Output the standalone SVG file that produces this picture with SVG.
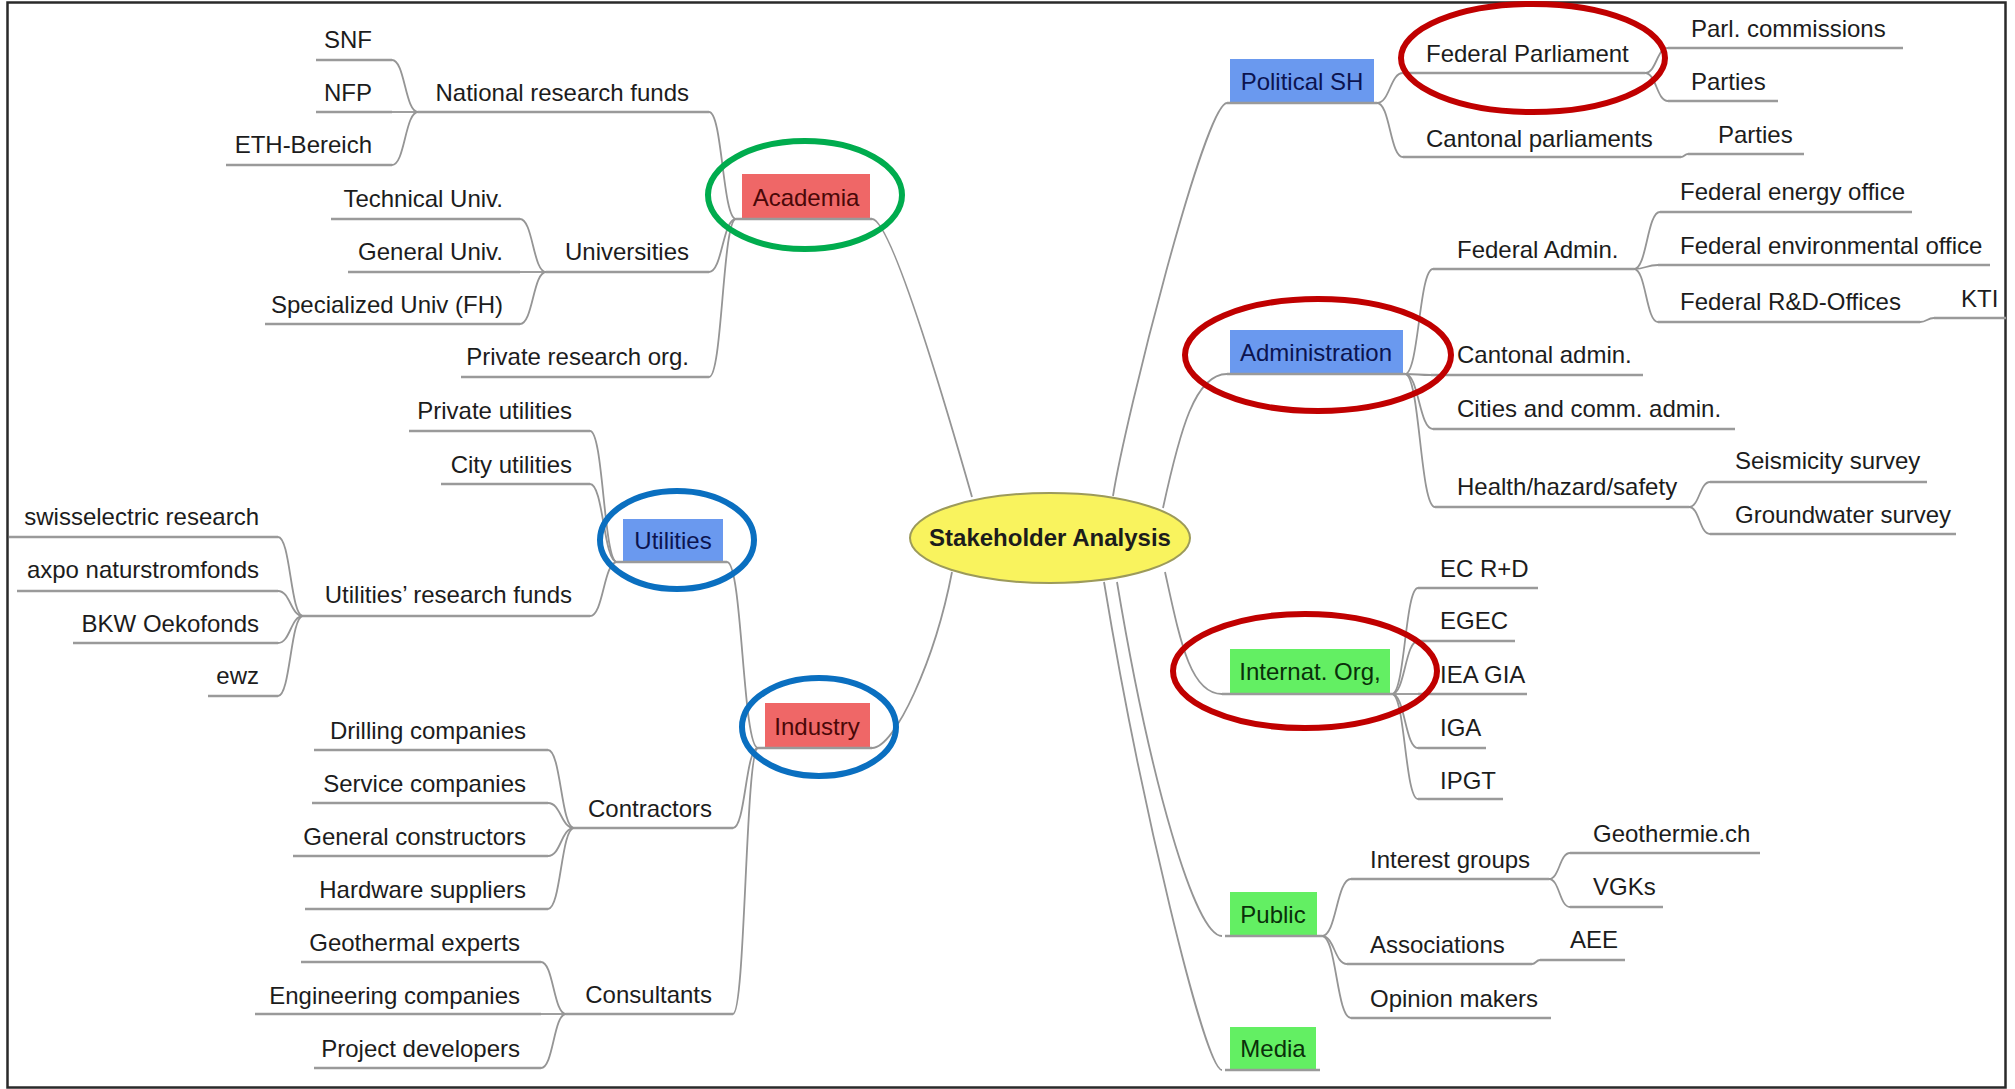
<svg xmlns="http://www.w3.org/2000/svg" width="2015" height="1089" viewBox="0 0 2015 1089">
<style>
text{font-family:"Liberation Sans",Arial,sans-serif;font-size:24px;fill:#1c1c1c}
.e{text-anchor:end}
.m{text-anchor:middle}
.u{stroke:#9a9a9a;stroke-width:2.5;fill:none}
.c{stroke:#959595;stroke-width:1.8;fill:none}
.red{fill:#ef6767}
.blue{fill:#6a99ef}
.green{fill:#63ef63}
.tr{fill:#4a0808}
.tb{fill:#0c1450}
.tg{fill:#0a300a}
.hl{fill:none;stroke-width:6}
</style>
<rect x="0" y="0" width="2015" height="1089" fill="#fff"/>
<rect x="7.5" y="2.5" width="1998" height="1085" fill="none" stroke="#2a2a2a" stroke-width="2.5"/>
<g id="connectors">
<path class="c" d="M392 60 C405 60 405 112 418 112"/>
<path class="c" d="M392 112 H418"/>
<path class="c" d="M392 165 C405 165 405 112 418 112"/>
<path class="c" d="M709 112 C722.5 112 722.5 219 736 219"/>
<path class="c" d="M520 219 C533 219 533 272 546 272"/>
<path class="c" d="M520 272 H546"/>
<path class="c" d="M520 324 C533 324 533 272 546 272"/>
<path class="c" d="M709 272 C722.5 272 722.5 219 736 219"/>
<path class="c" d="M709 377 C722.5 377 722.5 219 736 219"/>
<path class="c" d="M590 431 C603.5 431 603.5 562 617 562"/>
<path class="c" d="M590 484 C603.5 484 603.5 562 617 562"/>
<path class="c" d="M590 616 C603.5 616 603.5 562 617 562"/>
<path class="c" d="M278 537 C290.5 537 290.5 616 303 616"/>
<path class="c" d="M278 591 C290.5 591 290.5 616 303 616"/>
<path class="c" d="M278 643 C290.5 643 290.5 616 303 616"/>
<path class="c" d="M278 696 C290.5 696 290.5 616 303 616"/>
<path class="c" d="M727 562 C742.5 562 742.5 748 758 748"/>
<path class="c" d="M548 750 C561 750 561 828 574 828"/>
<path class="c" d="M548 803 C561 803 561 828 574 828"/>
<path class="c" d="M548 856 C561 856 561 828 574 828"/>
<path class="c" d="M548 909 C561 909 561 828 574 828"/>
<path class="c" d="M733 828 C745.5 828 745.5 748 758 748"/>
<path class="c" d="M541 962 C553.5 962 553.5 1014 566 1014"/>
<path class="c" d="M541 1014 H566"/>
<path class="c" d="M541 1068 C553.5 1068 553.5 1014 566 1014"/>
<path class="c" d="M733 1014 C745.5 1014 745.5 748 758 748"/>
<path class="c" d="M1377 103 C1390 103 1390 73 1403 73"/>
<path class="c" d="M1377 103 C1390 103 1390 157 1403 157"/>
<path class="c" d="M1645 73 C1656.5 73 1656.5 48 1668 48"/>
<path class="c" d="M1645 73 C1656.5 73 1656.5 101 1668 101"/>
<path class="c" d="M1681 157 C1684.5 157 1684.5 154 1688 154"/>
<path class="c" d="M1405 374 C1419 374 1419 269 1433 269"/>
<path class="c" d="M1405 374 C1418 374 1418 375 1431 375"/>
<path class="c" d="M1405 374 C1419 374 1419 429 1433 429"/>
<path class="c" d="M1405 374 C1420 374 1420 507 1435 507"/>
<path class="c" d="M1634 269 C1647 269 1647 212 1660 212"/>
<path class="c" d="M1634 269 C1646 269 1646 265 1658 265"/>
<path class="c" d="M1634 269 C1646 269 1646 322 1658 322"/>
<path class="c" d="M1920 322 C1927 322 1927 318 1934 318"/>
<path class="c" d="M1689 507 C1699.5 507 1699.5 482 1710 482"/>
<path class="c" d="M1689 507 C1699.5 507 1699.5 534 1710 534"/>
<path class="c" d="M1392 694 C1405 694 1405 588 1418 588"/>
<path class="c" d="M1392 694 C1405 694 1405 641 1418 641"/>
<path class="c" d="M1392 694 H1418"/>
<path class="c" d="M1392 694 C1405 694 1405 748 1418 748"/>
<path class="c" d="M1392 694 C1405 694 1405 799 1418 799"/>
<path class="c" d="M1322 936 C1336.5 936 1336.5 879 1351 879"/>
<path class="c" d="M1322 936 C1334.5 936 1334.5 964 1347 964"/>
<path class="c" d="M1322 936 C1336.5 936 1336.5 1018 1351 1018"/>
<path class="c" d="M1549 879 C1559.5 879 1559.5 853 1570 853"/>
<path class="c" d="M1549 879 C1559.5 879 1559.5 907 1570 907"/>
<path class="c" d="M1532 964 C1536 964 1536 960 1540 960"/>
<path class="c" d="M872 219 C892 219 950 420 972 497"/>
<path class="c" d="M872 748 C895 748 935 660 952 572"/>
<path class="c" d="M1227 103 C1205 103 1125 420 1113 496"/>
<path class="c" d="M1227 374 C1195 374 1180 430 1163 508"/>
<path class="c" d="M1222 694 C1190 694 1180 640 1165 572"/>
<path class="c" d="M1222 936 C1195 936 1150 780 1117 582"/>
<path class="c" d="M1222 1070 C1205 1070 1140 800 1104 582"/>
</g>
<g id="center"><ellipse cx="1050" cy="538" rx="140" ry="45" fill="#f9f35e" stroke="#9c9a5a" stroke-width="2"/><text class="m" x="1050" y="546" font-weight="bold" font-size="23" fill="#111">Stakeholder Analysis</text></g>
<g id="academia"><rect class="red" x="742" y="174" width="128" height="45"/><line class="u" x1="736" y1="219" x2="872" y2="219"/><text class="m tr" x="806" y="206">Academia</text></g>
<g id="snf"><line class="u" x1="316" y1="60" x2="392" y2="60"/><text class="e" x="372" y="48">SNF</text></g>
<g id="nfp"><line class="u" x1="316" y1="112" x2="392" y2="112"/><text class="e" x="372" y="101">NFP</text></g>
<g id="eth"><line class="u" x1="226" y1="165" x2="392" y2="165"/><text class="e" x="372" y="153">ETH-Bereich</text></g>
<g id="nrf"><line class="u" x1="418" y1="112" x2="709" y2="112"/><text class="e" x="689" y="101">National research funds</text></g>
<g id="techuniv"><line class="u" x1="331" y1="219" x2="520" y2="219"/><text class="e" x="503" y="207">Technical Univ.</text></g>
<g id="genuniv"><line class="u" x1="348" y1="272" x2="520" y2="272"/><text class="e" x="503" y="260">General Univ.</text></g>
<g id="specuniv"><line class="u" x1="265" y1="324" x2="520" y2="324"/><text class="e" x="503" y="313">Specialized Univ (FH)</text></g>
<g id="universities"><line class="u" x1="546" y1="272" x2="709" y2="272"/><text class="e" x="689" y="260">Universities</text></g>
<g id="privres"><line class="u" x1="461" y1="377" x2="709" y2="377"/><text class="e" x="689" y="365">Private research org.</text></g>
<g id="utilities"><rect class="blue" x="623" y="519" width="100" height="43"/><line class="u" x1="617" y1="562" x2="727" y2="562"/><text class="m tb" x="673" y="549">Utilities</text></g>
<g id="privutil"><line class="u" x1="409" y1="431" x2="590" y2="431"/><text class="e" x="572" y="419">Private utilities</text></g>
<g id="cityutil"><line class="u" x1="441" y1="484" x2="590" y2="484"/><text class="e" x="572" y="473">City utilities</text></g>
<g id="urf"><line class="u" x1="303" y1="616" x2="590" y2="616"/><text class="e" x="572" y="603">Utilities’ research funds</text></g>
<g id="swiss"><line class="u" x1="9" y1="537" x2="278" y2="537"/><text class="e" x="259" y="525">swisselectric research</text></g>
<g id="axpo"><line class="u" x1="17" y1="591" x2="278" y2="591"/><text class="e" x="259" y="578">axpo naturstromfonds</text></g>
<g id="bkw"><line class="u" x1="73" y1="643" x2="278" y2="643"/><text class="e" x="259" y="632">BKW Oekofonds</text></g>
<g id="ewz"><line class="u" x1="208" y1="696" x2="278" y2="696"/><text class="e" x="259" y="684">ewz</text></g>
<g id="industry"><rect class="red" x="765" y="703" width="105" height="45"/><line class="u" x1="758" y1="748" x2="872" y2="748"/><text class="m tr" x="817" y="735">Industry</text></g>
<g id="drilling"><line class="u" x1="314" y1="750" x2="548" y2="750"/><text class="e" x="526" y="739">Drilling companies</text></g>
<g id="service"><line class="u" x1="312" y1="803" x2="548" y2="803"/><text class="e" x="526" y="792">Service companies</text></g>
<g id="genconst"><line class="u" x1="293" y1="856" x2="548" y2="856"/><text class="e" x="526" y="845">General constructors</text></g>
<g id="hardware"><line class="u" x1="305" y1="909" x2="548" y2="909"/><text class="e" x="526" y="898">Hardware suppliers</text></g>
<g id="contractors"><line class="u" x1="574" y1="828" x2="733" y2="828"/><text class="e" x="712" y="817">Contractors</text></g>
<g id="geoexp"><line class="u" x1="301" y1="962" x2="541" y2="962"/><text class="e" x="520" y="951">Geothermal experts</text></g>
<g id="engcomp"><line class="u" x1="255" y1="1014" x2="541" y2="1014"/><text class="e" x="520" y="1004">Engineering companies</text></g>
<g id="projdev"><line class="u" x1="314" y1="1068" x2="541" y2="1068"/><text class="e" x="520" y="1057">Project developers</text></g>
<g id="consultants"><line class="u" x1="566" y1="1014" x2="733" y2="1014"/><text class="e" x="712" y="1003">Consultants</text></g>
<g id="political"><rect class="blue" x="1230" y="59" width="144" height="44"/><line class="u" x1="1227" y1="103" x2="1377" y2="103"/><text class="m tb" x="1302" y="90">Political SH</text></g>
<g id="fedparl"><line class="u" x1="1403" y1="73" x2="1645" y2="73"/><text x="1426" y="62">Federal Parliament</text></g>
<g id="cantparl"><line class="u" x1="1403" y1="157" x2="1681" y2="157"/><text x="1426" y="147">Cantonal parliaments</text></g>
<g id="parlcomm"><line class="u" x1="1668" y1="48" x2="1903" y2="48"/><text x="1691" y="37">Parl. commissions</text></g>
<g id="parties1"><line class="u" x1="1668" y1="101" x2="1778" y2="101"/><text x="1691" y="90">Parties</text></g>
<g id="parties2"><line class="u" x1="1688" y1="154" x2="1804" y2="154"/><text x="1718" y="143">Parties</text></g>
<g id="administration"><rect class="blue" x="1230" y="330" width="173" height="44"/><line class="u" x1="1227" y1="374" x2="1405" y2="374"/><text class="m tb" x="1316" y="361">Administration</text></g>
<g id="fedadmin"><line class="u" x1="1433" y1="269" x2="1634" y2="269"/><text x="1457" y="258">Federal Admin.</text></g>
<g id="cantadmin"><line class="u" x1="1431" y1="375" x2="1643" y2="375"/><text x="1457" y="363">Cantonal admin.</text></g>
<g id="cities"><line class="u" x1="1433" y1="429" x2="1735" y2="429"/><text x="1457" y="417">Cities and comm. admin.</text></g>
<g id="health"><line class="u" x1="1435" y1="507" x2="1689" y2="507"/><text x="1457" y="495">Health/hazard/safety</text></g>
<g id="fedenergy"><line class="u" x1="1660" y1="212" x2="1912" y2="212"/><text x="1680" y="200">Federal energy office</text></g>
<g id="fedenv"><line class="u" x1="1658" y1="265" x2="1990" y2="265"/><text x="1680" y="254">Federal environmental office</text></g>
<g id="fedrd"><line class="u" x1="1658" y1="322" x2="1920" y2="322"/><text x="1680" y="310">Federal R&amp;D-Offices</text></g>
<g id="kti"><line class="u" x1="1934" y1="318" x2="2006" y2="318"/><text x="1961" y="307">KTI</text></g>
<g id="seismic"><line class="u" x1="1710" y1="482" x2="1927" y2="482"/><text x="1735" y="469">Seismicity survey</text></g>
<g id="groundwater"><line class="u" x1="1710" y1="534" x2="1956" y2="534"/><text x="1735" y="523">Groundwater survey</text></g>
<g id="internat"><rect class="green" x="1230" y="649" width="160" height="45"/><line class="u" x1="1222" y1="694" x2="1392" y2="694"/><text class="m tg" x="1310" y="680">Internat. Org,</text></g>
<g id="ecrd"><line class="u" x1="1418" y1="588" x2="1538" y2="588"/><text x="1440" y="577">EC R+D</text></g>
<g id="egec"><line class="u" x1="1418" y1="641" x2="1515" y2="641"/><text x="1440" y="629">EGEC</text></g>
<g id="ieagia"><line class="u" x1="1418" y1="694" x2="1527" y2="694"/><text x="1440" y="683">IEA GIA</text></g>
<g id="iga"><line class="u" x1="1418" y1="748" x2="1486" y2="748"/><text x="1440" y="736">IGA</text></g>
<g id="ipgt"><line class="u" x1="1418" y1="799" x2="1503" y2="799"/><text x="1440" y="789">IPGT</text></g>
<g id="public"><rect class="green" x="1230" y="892" width="87" height="44"/><line class="u" x1="1225" y1="936" x2="1322" y2="936"/><text class="m tg" x="1273" y="923">Public</text></g>
<g id="interest"><line class="u" x1="1351" y1="879" x2="1549" y2="879"/><text x="1370" y="868">Interest groups</text></g>
<g id="assoc"><line class="u" x1="1347" y1="964" x2="1532" y2="964"/><text x="1370" y="953">Associations</text></g>
<g id="opinion"><line class="u" x1="1351" y1="1018" x2="1551" y2="1018"/><text x="1370" y="1007">Opinion makers</text></g>
<g id="geothermie"><line class="u" x1="1570" y1="853" x2="1760" y2="853"/><text x="1593" y="842">Geothermie.ch</text></g>
<g id="vgks"><line class="u" x1="1570" y1="907" x2="1663" y2="907"/><text x="1593" y="895">VGKs</text></g>
<g id="aee"><line class="u" x1="1540" y1="960" x2="1625" y2="960"/><text x="1570" y="948">AEE</text></g>
<g id="media"><rect class="green" x="1230" y="1027" width="86" height="43"/><line class="u" x1="1225" y1="1070" x2="1320" y2="1070"/><text class="m tg" x="1273" y="1057">Media</text></g>
<g id="highlights">
<ellipse class="hl" cx="805" cy="195" rx="97" ry="54" stroke="#00ac4e"/>
<ellipse class="hl" cx="677" cy="540" rx="77" ry="49" stroke="#0a6fc0"/>
<ellipse class="hl" cx="819" cy="727" rx="77" ry="49" stroke="#0a6fc0"/>
<ellipse class="hl" cx="1533" cy="58" rx="132" ry="54" stroke="#c00000"/>
<ellipse class="hl" cx="1318" cy="355" rx="133" ry="56" stroke="#c00000"/>
<ellipse class="hl" cx="1305" cy="671" rx="132" ry="57" stroke="#c00000"/>
</g>
</svg>
